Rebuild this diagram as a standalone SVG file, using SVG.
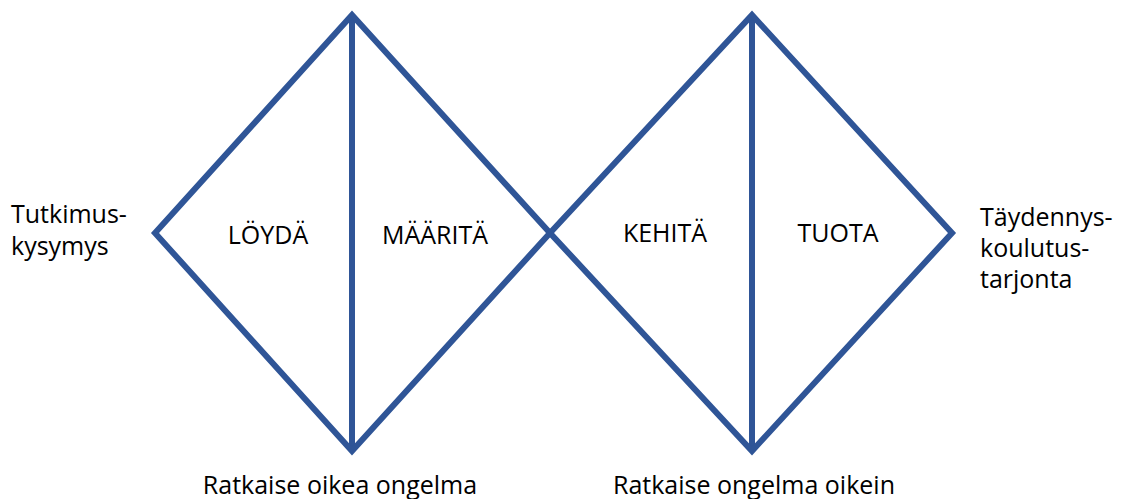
<svg xmlns="http://www.w3.org/2000/svg" width="1121" height="499" viewBox="0 0 1121 499">
<style>
.ln{fill:none;stroke:#2F5597;stroke-width:6;stroke-linejoin:miter;stroke-miterlimit:10}
text{font-family:"Open Sans","Liberation Sans",sans-serif;fill:#000;font-size:25px}
.c{text-anchor:middle}
</style>
<rect width="1121" height="499" fill="#fff"/>
<g id="connectors">
<path class="ln" d="M352,15 L352,451"/>
<path class="ln" d="M752,15 L752,451"/>
</g>
<g id="diamond-left">
<path class="ln" d="M155,233 L352,15 L550,233 L352,451 Z"/>
</g>
<g id="diamond-right">
<path class="ln" d="M550,233 L752,15 L952,233 L752,451 Z"/>
</g>
<g id="node-loyda"><text class="c" x="268" y="244">LÖYDÄ</text></g>
<g id="node-maarita"><text class="c" x="435" y="244">MÄÄRITÄ</text></g>
<g id="node-kehita"><text class="c" x="665" y="242">KEHITÄ</text></g>
<g id="node-tuota"><text class="c" x="838" y="242">TUOTA</text></g>
<g id="node-input"><text x="11" y="223">Tutkimus-</text><text x="11" y="255">kysymys</text></g>
<g id="node-output"><text x="980" y="226">Täydennys-</text><text x="980" y="257">koulutus-</text><text x="980" y="288">tarjonta</text></g>
<g id="label-left"><text class="c" x="340" y="494">Ratkaise oikea ongelma</text></g>
<g id="label-right"><text class="c" x="754" y="494">Ratkaise ongelma oikein</text></g>
</svg>
